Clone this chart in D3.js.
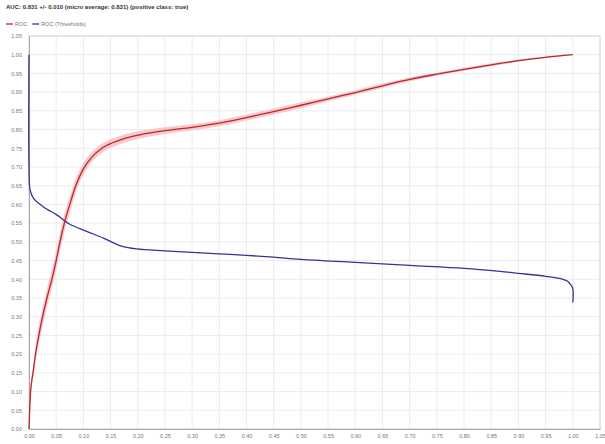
<!DOCTYPE html>
<html>
<head>
<meta charset="utf-8">
<script src="https://cdn.jsdelivr.net/npm/d3@7"></script>
<style>
  html, body { margin: 0; padding: 0; background: #fff; }
  svg { display: block; font-family: "Liberation Sans", Arial, sans-serif; }
</style>
</head>
<body>
<svg id="chart" width="605" height="444"></svg>
<script>
// ROC curve: false positive rate, true positive rate and its spread
const rocFpr = [0, 0.001, 0.003, 0.0074, 0.012, 0.018, 0.025, 0.033, 0.042, 0.050, 0.057, 0.065,
  0.075, 0.086, 0.100, 0.116, 0.136, 0.167, 0.204, 0.25, 0.30, 0.35, 0.40, 0.45, 0.50, 0.55,
  0.60, 0.65, 0.70, 0.75, 0.80, 0.85, 0.90, 0.95, 1.00];
const rocTpr = [0, 0.04, 0.10, 0.15, 0.20, 0.25, 0.30, 0.35, 0.40, 0.45, 0.50, 0.55,
  0.60, 0.65, 0.695, 0.727, 0.752, 0.772, 0.786, 0.797, 0.806, 0.817, 0.832, 0.848, 0.865, 0.882,
  0.899, 0.917, 0.934, 0.948, 0.961, 0.973, 0.984, 0.993, 1.00];
const rocSpread = [0, 0.006, 0.01, 0.015, 0.02, 0.025, 0.025, 0.025, 0.025, 0.025, 0.025, 0.024,
  0.022, 0.019, 0.016, 0.013, 0.012, 0.011, 0.01, 0.009, 0.008, 0.008, 0.008, 0.008, 0.008, 0.006,
  0.006, 0.006, 0.005, 0.004, 0.004, 0.004, 0.003, 0.002, 0];

// Threshold curve
const thrFpr = [0, 0, 0.002, 0.008, 0.026, 0.051, 0.063, 0.075, 0.106, 0.137, 0.167,
  0.198, 0.25, 0.30, 0.35, 0.40, 0.45, 0.50, 0.60, 0.70, 0.80, 0.866, 0.90, 0.95, 0.982, 0.991,
  0.996, 1.0, 1.0];
const thrValue = [1.0, 0.70, 0.639, 0.617, 0.594, 0.572, 0.559, 0.547, 0.528, 0.510,
  0.490, 0.481, 0.476, 0.472, 0.468, 0.464, 0.459, 0.453, 0.445, 0.437, 0.429, 0.421, 0.416,
  0.408, 0.400, 0.394, 0.386, 0.375, 0.338];

const ticks = d3.range(0, 22).map(i => +(i * 0.05).toFixed(2));

const titleText = "AUC: 0.831 +/- 0.010 (micro average: 0.831) (positive class: true)";
const legendItems = [
  { label: "ROC", color: "#b8282e" },
  { label: "ROC (Thresholds)", color: "#34349a" }
];

const svg = d3.select("#chart");
const m = { left: 29, right: 600, top: 36, bottom: 429 };

const x = d3.scaleLinear().domain([0, 1.05]).range([m.left, m.right]);
const y = d3.scaleLinear().domain([0, 1.05]).range([m.bottom, m.top]);

// grid
const grid = svg.append("g");
grid.selectAll("line.v").data(ticks).join("line")
  .attr("x1", d => x(d)).attr("x2", d => x(d))
  .attr("y1", m.top).attr("y2", m.bottom)
  .attr("stroke", "#ececec").attr("stroke-width", 1);
grid.selectAll("line.h").data(ticks).join("line")
  .attr("x1", m.left).attr("x2", m.right)
  .attr("y1", d => y(d)).attr("y2", d => y(d))
  .attr("stroke", "#ececec").attr("stroke-width", 1);

// frame
svg.append("rect")
  .attr("x", m.left).attr("y", m.top)
  .attr("width", m.right - m.left).attr("height", m.bottom - m.top)
  .attr("fill", "none").attr("stroke", "#d8d8d8");

// axes
const xAxis = svg.append("g").attr("transform", `translate(0,${m.bottom})`)
  .call(d3.axisBottom(x).tickValues(ticks).tickFormat(d3.format(".2f")).tickSize(0).tickPadding(5));
const yAxis = svg.append("g").attr("transform", `translate(${m.left},0)`)
  .call(d3.axisLeft(y).tickValues(ticks).tickFormat(d3.format(".2f")).tickSize(0).tickPadding(7));
[xAxis, yAxis].forEach(a => {
  a.select(".domain").attr("stroke", "#a8a8a8");
  a.selectAll("text").attr("fill", "#777").attr("font-size", 5.5);
});

// ROC spread band
const rocData = rocFpr.map((f, i) => ({ f, t: rocTpr[i], s: rocSpread[i] }));
svg.append("path").datum(rocData)
  .attr("fill", "#f5b5b8").attr("opacity", 0.75)
  .attr("d", d3.area()
    .x(d => x(d.f))
    .y0(d => y(Math.max(0, d.t - d.s)))
    .y1(d => y(Math.min(1, d.t + d.s)))
    .curve(d3.curveMonotoneX));

// threshold curve
const thrData = thrFpr.map((f, i) => ({ f, v: thrValue[i] }));
svg.append("path").datum(thrData)
  .attr("fill", "none").attr("stroke", "#34349a").attr("stroke-width", 1.3)
  .attr("d", d3.line().x(d => x(d.f)).y(d => y(d.v)).curve(d3.curveCatmullRom.alpha(0.5)));

// ROC curve
svg.append("path").datum(rocData)
  .attr("fill", "none").attr("stroke", "#b8282e").attr("stroke-width", 1.3)
  .attr("d", d3.line().x(d => x(d.f)).y(d => y(d.t)).curve(d3.curveMonotoneX));

// title
svg.append("text").attr("x", 6).attr("y", 9)
  .attr("font-size", 6).attr("font-weight", "bold").attr("fill", "#333")
  .text(titleText);

// legend
let lx = 6;
legendItems.forEach(it => {
  svg.append("line").attr("x1", lx).attr("x2", lx + 7).attr("y1", 24).attr("y2", 24)
    .attr("stroke", it.color).attr("stroke-width", 1.3);
  const t = svg.append("text").attr("x", lx + 9).attr("y", 26)
    .attr("font-size", 5.5).attr("fill", "#777").text(it.label);
  lx += 9 + t.node().getComputedTextLength() + 5;
});
</script>
</body>
</html>
